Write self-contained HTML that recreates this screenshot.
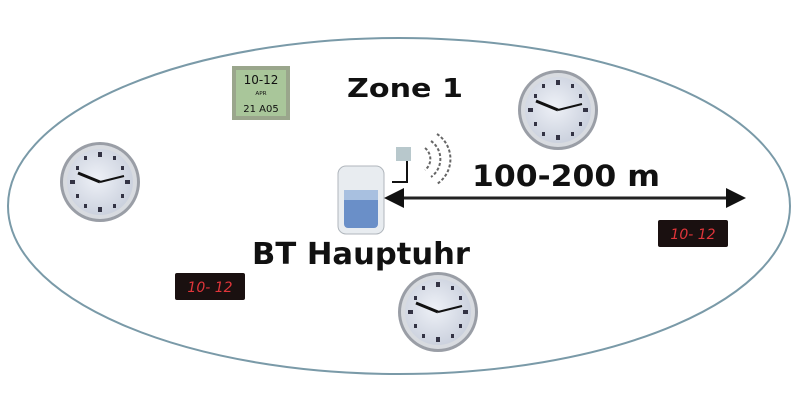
<!DOCTYPE html>
<html><head><meta charset="utf-8"><style>
html,body{margin:0;padding:0;background:#fff;}
svg{display:block}
text{font-family:"DejaVu Sans","Liberation Sans",sans-serif;font-weight:bold;fill:#111}
</style></head><body>
<svg width="800" height="400" viewBox="0 0 800 400" xmlns="http://www.w3.org/2000/svg">
<defs>
<radialGradient id="cf" cx="0.45" cy="0.45" r="0.6"><stop offset="0" stop-color="#eef1f7"/><stop offset="1" stop-color="#c9cfdc"/></radialGradient>
<g id="clk">
<circle r="40" fill="#9a9ea6"/>
<circle r="37" fill="#d8dbe0"/>
<circle r="33" fill="url(#cf)"/>
<g fill="#334">
<rect x="-2" y="-30" width="4" height="5"/><rect x="-2" y="25" width="4" height="5"/>
<rect x="-30" y="-2" width="5" height="4"/><rect x="25" y="-2" width="5" height="4"/>
<rect x="13" y="-26" width="3" height="4"/><rect x="21" y="-16" width="3" height="4"/>
<rect x="21" y="12" width="3" height="4"/><rect x="13" y="22" width="3" height="4"/>
<rect x="-16" y="22" width="3" height="4"/><rect x="-24" y="12" width="3" height="4"/>
<rect x="-24" y="-16" width="3" height="4"/><rect x="-16" y="-26" width="3" height="4"/>
</g>
<line x1="0" y1="0" x2="-22" y2="-9" stroke="#111" stroke-width="3"/>
<line x1="0" y1="0" x2="24" y2="-6" stroke="#111" stroke-width="2"/>
</g>
<g id="red">
<rect width="70" height="27" fill="#1a1010" rx="2"/>
<text x="35" y="19" font-size="14" text-anchor="middle" style="fill:#e0353a;font-weight:normal;font-style:italic">10- 12</text>
</g>
</defs>
<ellipse cx="399" cy="206" rx="391" ry="168" fill="none" stroke="#7a9aa8" stroke-width="2"/>
<use href="#clk" x="100" y="182"/>
<use href="#clk" x="558" y="110"/>
<use href="#clk" x="438" y="312"/>
<rect x="232" y="66" width="58" height="54" fill="#9aa68c"/>
<rect x="236" y="70" width="50" height="46" fill="#a9c69a"/>
<text x="261" y="84" font-size="12" text-anchor="middle" style="font-weight:normal">10-12</text>
<text x="261" y="98" font-size="9" text-anchor="middle" style="font-weight:normal">ᴬᴾᴿ</text>
<text x="261" y="112" font-size="10" text-anchor="middle" style="font-weight:normal">21 A05</text>
<use href="#red" x="175" y="273"/>
<use href="#red" x="658" y="220"/>
<rect x="338" y="166" width="46" height="68" rx="8" fill="#e8ecf0" stroke="#b0b6bc"/>
<rect x="344" y="190" width="34" height="38" rx="4" fill="#6a8fc8"/>
<rect x="344" y="190" width="34" height="10" fill="#a8c0e0"/>
<rect x="396" y="147" width="15" height="14" fill="#b8c8cc"/>
<polyline points="407,161 407,182 392,182" fill="none" stroke="#111" stroke-width="2"/>
<g fill="none" stroke="#666" stroke-width="2" stroke-dasharray="3 2">
<path d="M425,148 a14,14 0 0 1 0,22"/>
<path d="M431,141 a22,22 0 0 1 0,36"/>
<path d="M437,134 a30,30 0 0 1 0,50"/>
</g>
<line x1="400" y1="198" x2="728" y2="198" stroke="#222" stroke-width="3"/>
<polygon points="384,198 404,188 404,208" fill="#111"/>
<polygon points="746,198 726,188 726,208" fill="#111"/>
<text x="347" y="97" font-size="26" textLength="116" lengthAdjust="spacingAndGlyphs">Zone 1</text>
<text x="472" y="186" font-size="29" textLength="188" lengthAdjust="spacingAndGlyphs">100-200 m</text>
<text x="252" y="264" font-size="30" textLength="218" lengthAdjust="spacingAndGlyphs">BT Hauptuhr</text>
</svg>
</body></html>
